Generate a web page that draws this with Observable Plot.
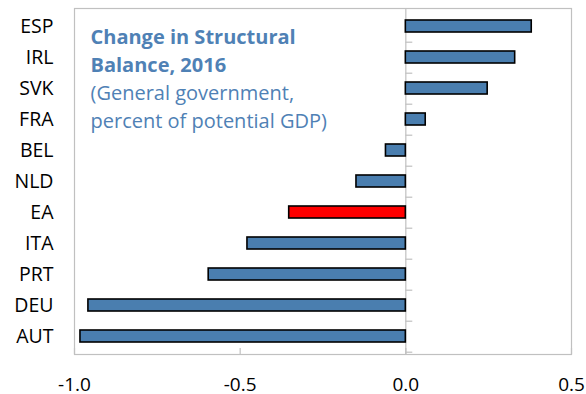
<!DOCTYPE html>
<html>
<head>
<meta charset="utf-8">
<script src="https://cdn.jsdelivr.net/npm/d3@7"></script>
<script src="https://cdn.jsdelivr.net/npm/@observablehq/plot@0.6"></script>
<style>
  html, body { margin: 0; padding: 0; background: #fff; }
  #chart svg { display: block; }
</style>
</head>
<body>
<div id="chart"></div>
<script>
const countries = ["ESP", "IRL", "SVK", "FRA", "BEL", "NLD", "EA", "ITA", "PRT", "DEU", "AUT"];
const values = [0.38, 0.33, 0.247, 0.06, -0.06, -0.149, -0.352, -0.478, -0.595, -0.958, -0.982];
const highlight = "EA";
const xTicks = [-1.0, -0.5, 0.0, 0.5];
const titleBold = "Change in Structural\nBalance, 2016";
const titleSub = "(General government,\npercent of potential GDP)";

const data = countries.map((c, i) => ({country: c, value: values[i]}));
const font = "'Open Sans', 'Noto Sans', sans-serif";
const titleColor = "#4F81B5";

const chart = Plot.plot({
  width: 586,
  height: 394,
  marginLeft: 74,
  marginRight: 15,
  marginTop: 8,
  marginBottom: 40,
  style: {fontFamily: font, background: "#fff", color: "#000"},
  x: {domain: [-1, 0.5]},
  y: {domain: countries, paddingInner: 0.6, paddingOuter: 0.3},
  marks: [
    Plot.frame({stroke: "#c0c0c0", strokeWidth: 1.2}),
    Plot.ruleX([0], {stroke: "#c0c0c0", strokeWidth: 1.2}),
    Plot.ruleY(countries, {y: d => d, x1: 0, x2: 0.021, dy: 15.7, stroke: "#c0c0c0", strokeWidth: 1.2}),
    Plot.ruleX(xTicks, {x: d => d, insetTop: 340, stroke: "#c0c0c0", strokeWidth: 1.2}),
    Plot.barX(data, {
      x: "value", y: "country",
      fill: d => d.country === highlight ? "#FF0000" : "#4A7EAF",
      stroke: "#000", strokeWidth: 1.6
    }),
    Plot.axisY({tickSize: 0, tickPadding: 21, fontSize: 19.5, label: null}),
    Plot.axisX({ticks: xTicks, tickSize: 0, tickPadding: 23, fontSize: 19, label: null,
      tickFormat: d => d.toFixed(1)}),
    Plot.text([titleBold], {frameAnchor: "top-left", dx: 16, dy: 16, text: d => d,
      fill: titleColor, fontWeight: "bold", fontSize: 20, lineHeight: 1.4, textAnchor: "start"}),
    Plot.text([titleSub], {frameAnchor: "top-left", dx: 16, dy: 72, text: d => d,
      fill: titleColor, fontSize: 20, lineHeight: 1.4, textAnchor: "start"})
  ]
});
document.getElementById("chart").appendChild(chart);
</script>
</body>
</html>
